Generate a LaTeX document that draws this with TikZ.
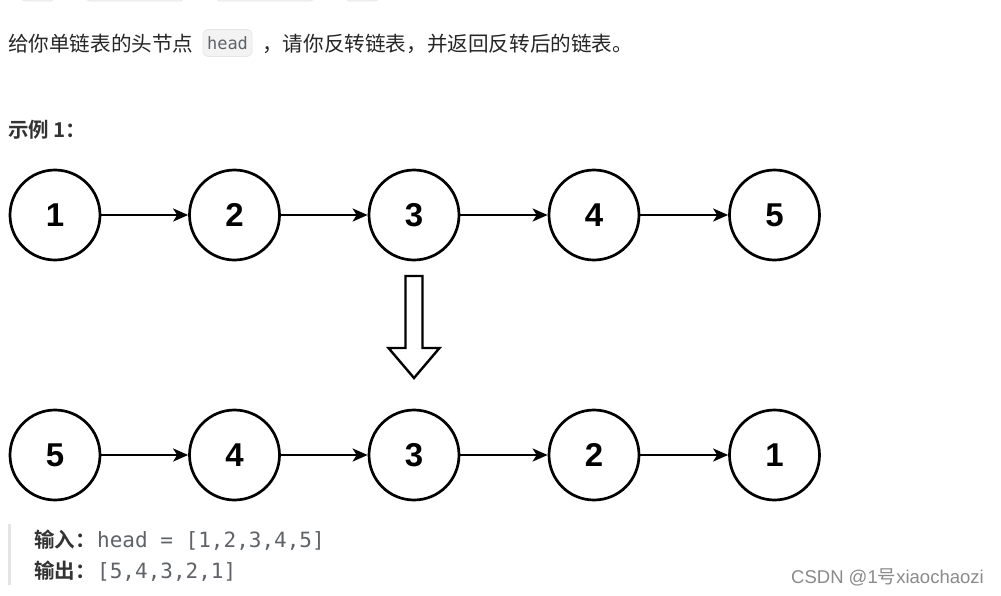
\documentclass[tikz,border=0pt]{standalone}
\usepackage{fontspec}
\setmainfont{Liberation Sans}
\newfontfamily\cjk{Noto Sans CJK SC}
\newfontfamily\cjkb{Noto Sans CJK SC Bold}
\newfontfamily\monof{DejaVu Sans Mono}
\newfontfamily\numf{Liberation Sans}
\usetikzlibrary{arrows.meta}
\definecolor{codegrey}{HTML}{5F6368}
\definecolor{codebg}{HTML}{F3F3F3}
\definecolor{codeborder}{HTML}{E6E6E6}
\definecolor{barcol}{HTML}{E4E4E4}
\definecolor{wmark}{HTML}{8A8A8A}
\tikzset{
  listnode/.style={circle, draw=black, line width=2.7pt, minimum size=90pt, inner sep=0pt,
    font=\numf\fontsize{33}{33}\selectfont\bfseries},
  link/.style={line width=2.5pt, -{Stealth[length=15pt,width=13pt,inset=4pt]}},
  bodytext/.style={anchor=base west, inner sep=0pt, font=\cjk\fontsize{20.6}{21}\selectfont, text=black!85},
  boldtext/.style={anchor=base west, inner sep=0pt, font=\cjkb\fontsize{20.5}{21}\selectfont, text=black!80},
  codetext/.style={anchor=base west, inner sep=0pt, font=\monof\fontsize{21}{22}\selectfont, text=codegrey},
  tagshape/.style={fill=codebg, draw=codeborder, line width=0.8pt, rounded corners=5pt},
}
\begin{document}
\begin{tikzpicture}[x=1pt,y=-1pt]
\useasboundingbox (0,0) rectangle (1001,595);
\fill[white] (0,0) rectangle (1001,595);
% faint tag bottoms at the top edge
\begin{scope}
\clip (0,0) rectangle (1001,2);
\draw[tagshape] (20,-20) rectangle (55,1);
\draw[tagshape] (85,-20) rectangle (185,1);
\draw[tagshape] (215,-20) rectangle (315,1);
\draw[tagshape] (345,-20) rectangle (380,1);
\end{scope}
% first line
\node[bodytext] (t1) at (8,51) {给你单链表的头节点};
\node[tagshape, minimum width=49pt, minimum height=27pt, inner sep=0pt,
      font=\monof\fontsize{17}{17}\selectfont, text=codegrey] (hd) at (227.5,43) {head};
\node[bodytext] (t2) at (262,51) {，请你反转链表，并返回反转后的链表。};
% example title
\node[boldtext] (ex) at (8,137) {示例 1：};
% lists
\foreach \i/\v/\x in {1/1/55,2/2/234.5,3/3/414,4/4/594,5/5/774.5}{
  \node[listnode] (a\i) at (\x,215) {\v};
}
\foreach \i/\v/\x in {1/5/55,2/4/234.5,3/3/414,4/2/594,5/1/774.5}{
  \node[listnode] (b\i) at (\x,455) {\v};
}
\foreach \i/\j in {1/2,2/3,3/4,4/5}{
  \draw[link] (a\i) -- (a\j);
  \draw[link] (b\i) -- (b\j);
}
% hollow down arrow
\draw[line width=2.4pt, line join=miter, fill=white]
  (405.5,276) -- (422.5,276) -- (422.5,348) -- (439.5,348) -- (414,378)
  -- (388.5,348) -- (405.5,348) -- cycle;
% bottom block
\fill[barcol] (8,524) rectangle (11,585);
\node[boldtext] (in) at (34,547) {输入：};
\node[codetext] (inv) at (97,547) {head = [1,2,3,4,5]};
\node[boldtext] (out) at (34,578) {输出：};
\node[codetext] (outv) at (97,578) {[5,4,3,2,1]};
% watermark
\node[anchor=base west, inner sep=0pt, text=wmark, font=\fontsize{18.5}{19}\selectfont] (wm) at (791,583) {CSDN @1{\cjk 号}xiaochaozi};
\end{tikzpicture}
\end{document}
